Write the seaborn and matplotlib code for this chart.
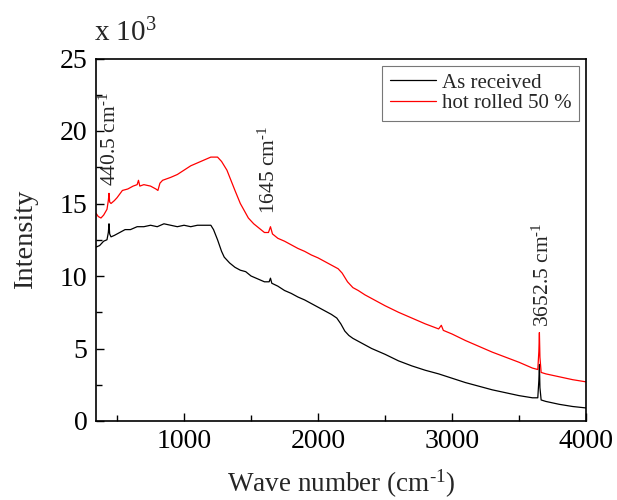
import matplotlib
matplotlib.use("Agg")
import matplotlib.pyplot as plt
import pandas as pd
import seaborn as sns
from matplotlib.ticker import MultipleLocator

# spectra, intensity in units of 10^3
wave_received = [345, 370, 400, 425, 435, 440, 445, 455, 480, 520, 560, 600, 650, 700,
                 750, 800, 850, 900, 950, 1000, 1050, 1100, 1150, 1200, 1220, 1250, 1280,
                 1300, 1340, 1380, 1420, 1460, 1500, 1550, 1600, 1635, 1645, 1655, 1700,
                 1750, 1800, 1850, 1900, 1950, 2000, 2050, 2100, 2140, 2170, 2200, 2230,
                 2260, 2300, 2350, 2400, 2450, 2500, 2600, 2700, 2800, 2900, 3000, 3100,
                 3200, 3300, 3400, 3500, 3600, 3640, 3648, 3652, 3656, 3665, 3700, 3800,
                 3900, 4000]
int_received = [12.0, 12.1, 12.4, 12.5, 13.0, 13.6, 12.9, 12.7, 12.8, 13.0, 13.2, 13.2,
                13.4, 13.4, 13.5, 13.4, 13.6, 13.5, 13.4, 13.5, 13.4, 13.5, 13.5, 13.5,
                13.2, 12.5, 11.7, 11.3, 10.9, 10.6, 10.4, 10.3, 10.0, 9.8, 9.6, 9.6, 9.85,
                9.5, 9.3, 9.0, 8.8, 8.55, 8.35, 8.1, 7.85, 7.6, 7.35, 7.1, 6.7, 6.2, 5.9,
                5.7, 5.5, 5.25, 5.0, 4.8, 4.6, 4.15, 3.8, 3.5, 3.25, 2.95, 2.65, 2.4, 2.15,
                1.95, 1.75, 1.6, 1.6, 2.8, 3.9, 2.3, 1.45, 1.35, 1.15, 1.0, 0.9]

wave_rolled = [345, 360, 380, 400, 425, 435, 440, 445, 455, 480, 500, 540, 580, 620, 650,
               660, 670, 700, 750, 790, 805, 820, 840, 900, 950, 1000, 1050, 1100, 1150,
               1200, 1250, 1280, 1320, 1350, 1380, 1420, 1450, 1480, 1520, 1560, 1600,
               1630, 1645, 1660, 1700, 1750, 1800, 1850, 1900, 1950, 2000, 2050, 2100,
               2150, 2180, 2220, 2260, 2300, 2350, 2400, 2450, 2500, 2600, 2700, 2800,
               2900, 2920, 2935, 3000, 3100, 3200, 3300, 3400, 3500, 3600, 3640, 3648,
               3652, 3656, 3665, 3700, 3800, 3900, 4000]
int_rolled = [14.3, 14.1, 14.0, 14.2, 14.6, 15.2, 15.7, 15.1, 15.0, 15.2, 15.4, 15.9,
              16.0, 16.2, 16.3, 16.6, 16.2, 16.3, 16.2, 16.0, 15.9, 16.4, 16.6, 16.8,
              17.0, 17.3, 17.6, 17.8, 18.0, 18.2, 18.2, 17.9, 17.3, 16.6, 15.9, 15.0,
              14.5, 14.0, 13.6, 13.3, 13.0, 13.0, 13.4, 12.9, 12.6, 12.4, 12.15, 11.9,
              11.7, 11.45, 11.25, 11.0, 10.75, 10.5, 10.2, 9.6, 9.2, 9.0, 8.7, 8.45, 8.2,
              7.95, 7.5, 7.1, 6.7, 6.35, 6.6, 6.25, 6.0, 5.55, 5.15, 4.75, 4.4, 4.05,
              3.65, 3.55, 4.8, 6.1, 4.4, 3.35, 3.25, 3.05, 2.85, 2.7]

labels = ["As received", "hot rolled 50 %"]
colors = ["black", "red"]

# rotated peak labels: x centre and y of the text foot
peak_pos = [450, 1635, 3677]
peak_text_y = [16.2, 14.3, 6.5]
peak_labels = ["440.5 cm$^{\u2010 1}$", "1645 cm$^{\u2010 1}$", "3652.5 cm$^{\u2010 1}$"]

frame = pd.concat([
    pd.DataFrame({"wave": wave_received, "intensity": int_received, "sample": labels[0]}),
    pd.DataFrame({"wave": wave_rolled, "intensity": int_rolled, "sample": labels[1]}),
])

sns.set_theme(style="ticks")
plt.rcParams["font.family"] = ["Liberation Serif", "DejaVu Serif"]
plt.rcParams["mathtext.fontset"] = "custom"
plt.rcParams["mathtext.rm"] = "Liberation Serif"
plt.rcParams["mathtext.default"] = "regular"

fig = plt.figure(figsize=(6.17, 5.0), dpi=100)
ax = fig.add_axes([0.1556, 0.158, 0.7942, 0.725])

sns.lineplot(data=frame, x="wave", y="intensity", hue="sample",
             palette=dict(zip(labels, colors)), estimator=None, sort=False,
             linewidth=0.9, ax=ax)

ax.set_xlim(343, 4000)
ax.set_ylim(0, 25)
ax.xaxis.set_major_locator(MultipleLocator(1000))
ax.xaxis.set_minor_locator(MultipleLocator(500))
ax.yaxis.set_major_locator(MultipleLocator(5))
ax.yaxis.set_minor_locator(MultipleLocator(2.5))
ax.tick_params(which="both", direction="in", top=False, right=False,
               labelsize=20, colors="black", width=1.0)
ax.tick_params(which="major", length=6, pad=6)
ax.tick_params(which="minor", length=4)
for spine in ax.spines.values():
    spine.set_visible(True)
    spine.set_linewidth(1.2)
    spine.set_color("black")

ax.set_xlabel("Wave number (cm$^{\u2010 1}$)", fontsize=19.5, labelpad=10)
ax.set_ylabel("Intensity", fontsize=20.5, labelpad=16)

for x, y, txt in zip(peak_pos, peak_text_y, peak_labels):
    ax.text(x, y, txt, rotation=90, ha="center", va="bottom", fontsize=15.5)

fig.text(0.152, 0.918, "x 10$^{3}$", fontsize=21, va="baseline")

leg = ax.legend(loc="upper right", fontsize=15, frameon=True, fancybox=False,
                handlelength=2.2, handletextpad=0.3, borderaxespad=0.35,
                labelspacing=0.05, borderpad=0.35, title=None)
leg.get_frame().set_edgecolor("#555555")
leg.get_frame().set_linewidth(0.8)
for line in leg.get_lines():
    line.set_linewidth(0.9)

fig.savefig("out.png", dpi=100)
